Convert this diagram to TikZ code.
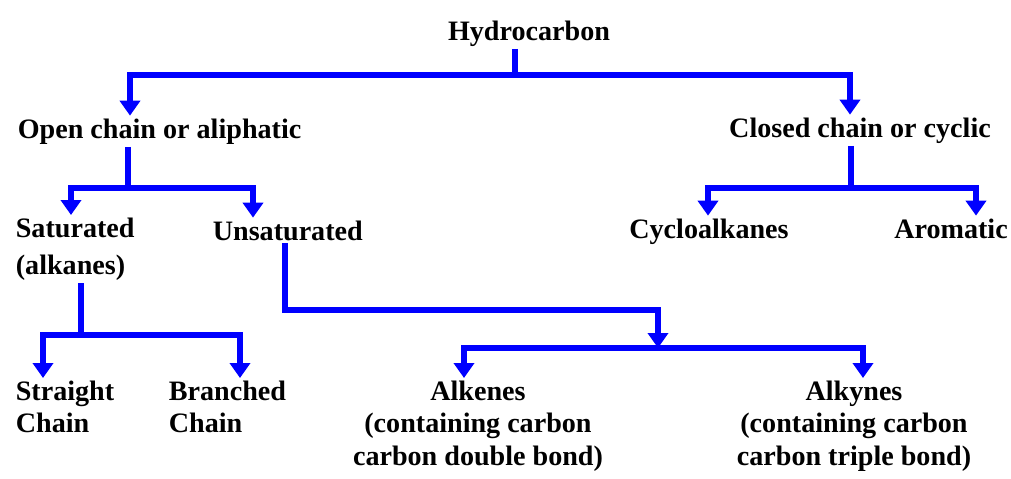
\documentclass[tikz,border=0pt]{standalone}
\usepackage{fontspec}
\setmainfont{Liberation Serif}
\usetikzlibrary{arrows.meta, positioning}

\begin{document}
\begin{tikzpicture}[x=0.02cm, y=-0.02cm,
  font=\fontsize{16}{18.5}\selectfont\bfseries,
  every node/.style={inner sep=0.5mm},
  wire/.style={draw=blue, line width=3.4pt},
  arr/.style={wire, -{Triangle[width=0.4cm,length=0.3cm]}}]
  \useasboundingbox (0,0) rectangle (1011,478);
  % top level
  \node[anchor=base] (hc) at (529,40) {Hydrocarbon};
  \node[anchor=base west] (open) at (15,138) {Open chain or aliphatic};
  \node[anchor=base] (closed) at (860,137) {Closed chain or cyclic};
  % second level
  \node[anchor=north west, align=left, font=\fontsize{16}{21}\selectfont\bfseries] (sat) at (13,215) {Saturated\\(alkanes)};
  \node[anchor=base west] (unsat) at (210,240) {Unsaturated};
  \node[anchor=base] (cyclo) at (709,238) {Cycloalkanes};
  \node[anchor=base] (arom) at (951,238) {Aromatic};
  % third level
  \node[anchor=north west, align=left] (straight) at (13,378) {Straight\\Chain};
  \node[anchor=north west, align=left] (branched) at (166,378) {Branched\\Chain};
  \node[anchor=north, align=center] (alkenes) at (478,378) {Alkenes\\(containing  carbon\\carbon double bond)};
  \node[anchor=north, align=center] (alkynes) at (854,378) {Alkynes\\(containing carbon\\carbon triple bond)};

  % connectors
  \coordinate (t1) at (515,75);
  \coordinate (t2) at (128,188);
  \coordinate (t3) at (851,188);
  \coordinate (t4) at (81,335);
  \coordinate (k) at (658,310);
  \coordinate (t5) at (658,348);
  \draw[wire] (hc.south -| t1) -- (t1);
  \draw[arr] (t1) -| (open.north -| 130,0);
  \draw[arr] (t1) -| (closed.north -| 850,0);
  \draw[wire] (open.south -| t2) -- (t2);
  \draw[arr] (t2) -| (sat.north -| 71,0);
  \draw[arr] (t2) -| (unsat.north -| 253,0);
  \draw[wire] (closed.south -| t3) -- (t3);
  \draw[arr] (t3) -| (cyclo.north -| 708,0);
  \draw[arr] (t3) -| (arom.north -| 976,0);
  \draw[wire] (sat.south -| t4) -- (t4);
  \draw[arr] (t4) -| (straight.north -| 43,0);
  \draw[arr] (t4) -| (branched.north -| 240,0);
  \draw[arr] (unsat.south -| 285,0) |- (k) -- (t5);
  \draw[arr] (t5) -| (alkenes.north -| 464,0);
  \draw[arr] (t5) -| (alkynes.north -| 863,0);
\end{tikzpicture}
\end{document}
